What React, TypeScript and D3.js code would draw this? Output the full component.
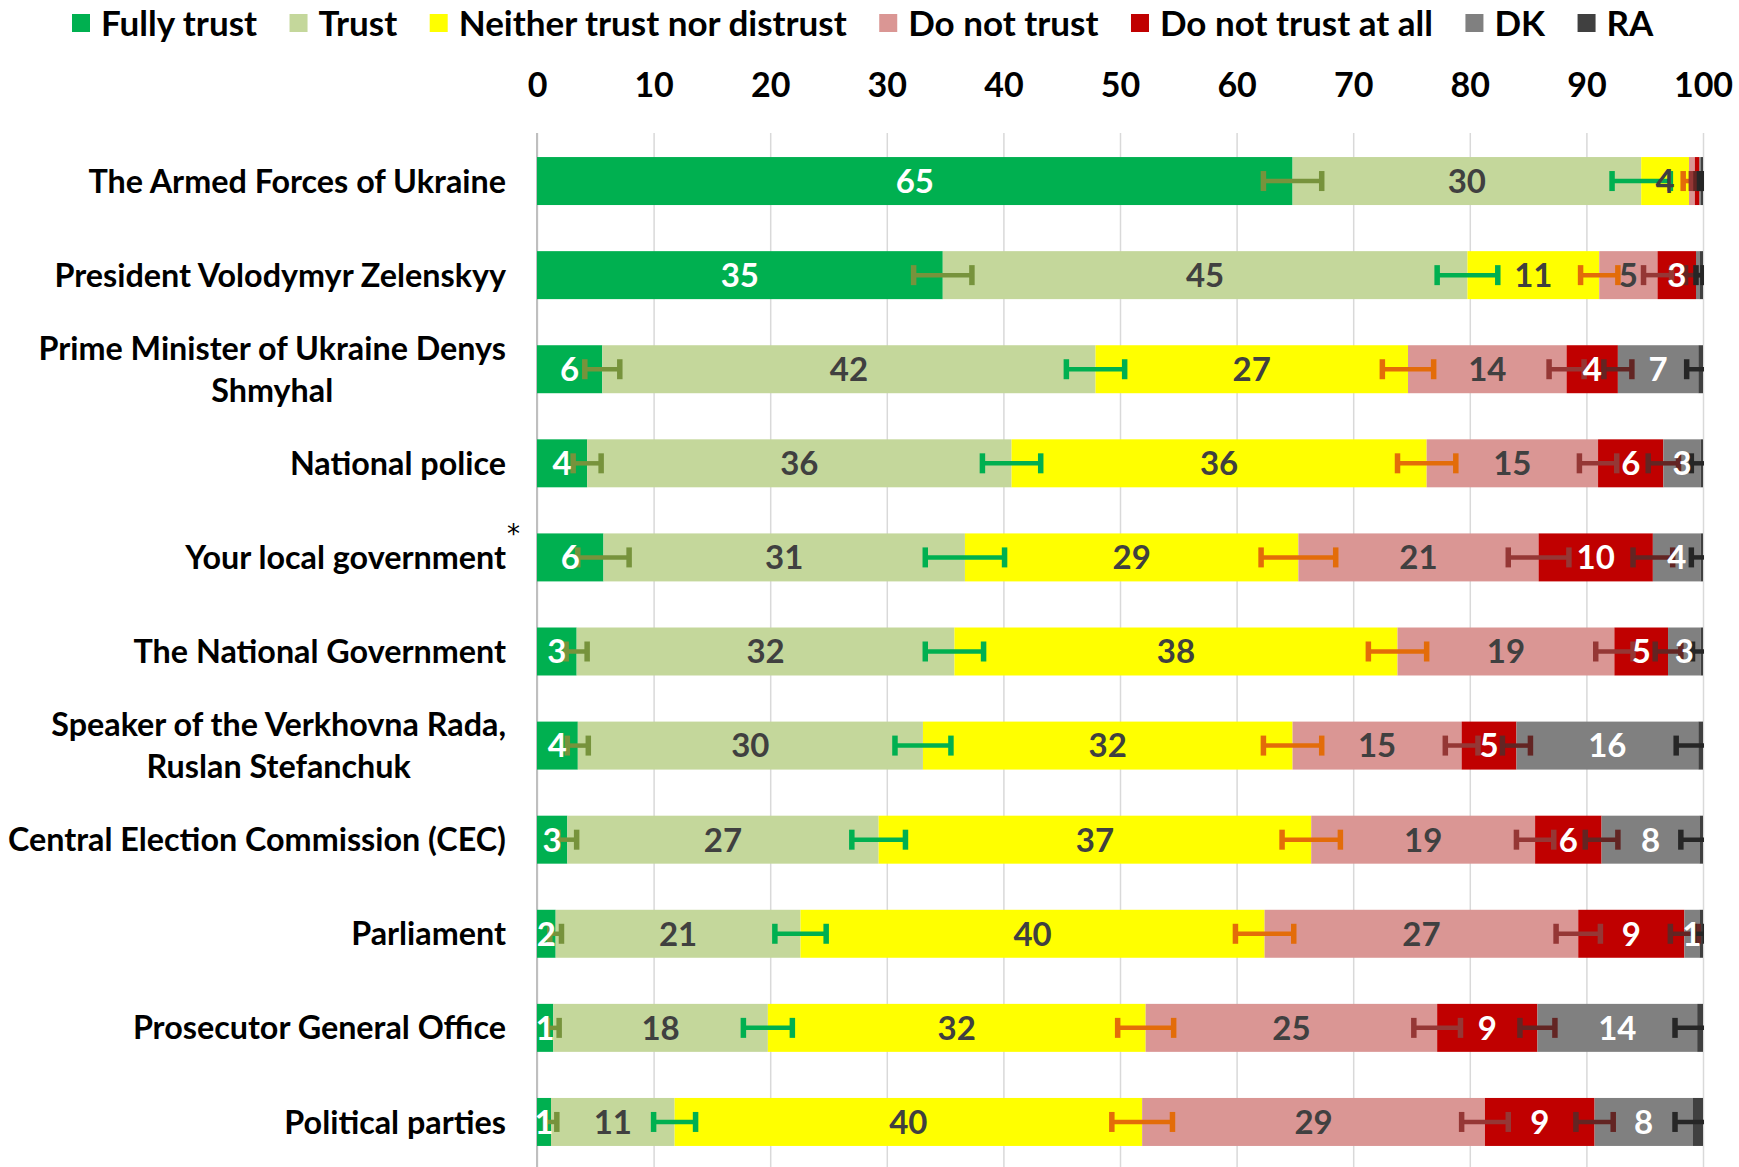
import React, { useEffect, useRef } from "react";
import * as d3 from "d3";

const categories = [
  "The Armed Forces of Ukraine",
  "President Volodymyr Zelenskyy",
  "Prime Minister of Ukraine Denys\nShmyhal",
  "National police",
  "Your local government",
  "The National Government",
  "Speaker of the Verkhovna Rada,\nRuslan Stefanchuk",
  "Central Election Commission (CEC)",
  "Parliament",
  "Prosecutor General Office",
  "Political parties",
];

const seriesNames = ["Fully trust", "Trust", "Neither trust nor distrust", "Do not trust", "Do not trust at all", "DK", "RA"];

const fullyTrust = [64.8, 34.8, 5.6, 4.3, 5.7, 3.4, 3.5, 2.6, 1.6, 1.4, 1.2];
const trust = [29.9, 45.0, 42.3, 36.4, 31.0, 32.4, 29.6, 26.7, 21.0, 18.4, 10.6];
const neither = [4.1, 11.3, 26.8, 35.6, 28.6, 38.0, 31.7, 37.1, 39.8, 32.4, 40.1];
const doNotTrust = [0.5, 5.0, 13.6, 14.7, 20.6, 18.6, 14.5, 19.2, 26.9, 25.0, 29.4];
const doNotTrustAtAll = [0.4, 3.3, 4.4, 5.6, 9.8, 4.6, 4.7, 5.7, 9.1, 8.6, 9.4];
const dk = [0.1, 0.3, 6.9, 3.2, 4.1, 2.8, 15.6, 8.4, 1.3, 13.7, 8.4];
const ra = [0.2, 0.3, 0.4, 0.2, 0.2, 0.2, 0.4, 0.3, 0.3, 0.5, 0.9];

// error bar half-widths (percentage points)
const fullyTrustErr = [2.5, 2.5, 1.5, 1.2, 2.2, 0.9, 0.9, 0.8, 0.5, 0.5, 0.5];
const trustErr = [2.5, 2.6, 2.5, 2.5, 3.4, 2.5, 2.4, 2.3, 2.2, 2.1, 1.8];
const neitherErr = [0.5, 1.6, 2.2, 2.5, 3.2, 2.5, 2.5, 2.5, 2.5, 2.4, 2.6];
const doNotTrustErr = [0.3, 1.2, 1.5, 1.6, 2.6, 1.6, 1.4, 1.6, 1.9, 2.0, 2.0];
const doNotTrustAtAllErr = [0.3, 0.9, 1.2, 1.3, 1.7, 1.1, 1.2, 1.4, 1.2, 1.5, 1.6];
const dkErr = [0.1, 0.3, 1.0, 0.8, 0.8, 0.7, 1.9, 1.6, 0.5, 1.9, 1.5];

const xTicks = [0, 10, 20, 30, 40, 50, 60, 70, 80, 90, 100];

const colors = ["#00B050", "#C4D79B", "#FFFF00", "#DA9694", "#C00000", "#808080", "#404040"];
const errColors = ["#77933C", "#00B050", "#E36C09", "#953735", "#632523", "#262626"];
const labelColors = ["#ffffff", "#404040", "#404040", "#404040", "#ffffff", "#ffffff", "#ffffff"];

const W = 1739;
const H = 1167;
const FONT = "Lato, 'Open Sans', sans-serif";

export default function App() {
  const svgRef = useRef<SVGSVGElement>(null);

  useEffect(() => {
    const svg = d3.select(svgRef.current);
    svg.selectAll("*").remove();

    const margin = { top: 134, right: 36, bottom: -2, left: 537 };

    const x = d3.scaleLinear().domain([0, 100]).range([margin.left, W - margin.right]);
    const y = d3
      .scaleBand<string>()
      .domain(categories)
      .range([margin.top, H - margin.bottom])
      .paddingInner(0.49)
      .paddingOuter(0.245);

    const values = [fullyTrust, trust, neither, doNotTrust, doNotTrustAtAll, dk, ra];
    const errs = [fullyTrustErr, trustErr, neitherErr, doNotTrustErr, doNotTrustAtAllErr, dkErr];

    const table = categories.map((c, i) => {
      const row: any = { category: c };
      seriesNames.forEach((s, k) => (row[s] = values[k][i]));
      return row;
    });
    const stacked = d3.stack<any>().keys(seriesNames)(table);

    svg
      .append("defs")
      .append("clipPath")
      .attr("id", "plot-clip")
      .append("rect")
      .attr("x", x(0))
      .attr("y", 0)
      .attr("width", x(100) - x(0) + 1)
      .attr("height", H);

    // === gridlines ===
    const grid = svg
      .append("g")
      .attr("transform", `translate(0,${margin.top - 1})`)
      .call(d3.axisTop(x).tickValues(xTicks).tickSize(-(H - margin.top + 1)).tickFormat(() => ""));
    grid.select(".domain").remove();
    grid.selectAll("line").attr("stroke", "#d9d9d9").attr("stroke-width", 1.5);

    // left axis line
    svg
      .append("line")
      .attr("x1", x(0))
      .attr("x2", x(0))
      .attr("y1", margin.top - 1)
      .attr("y2", H)
      .attr("stroke", "#bfbfbf")
      .attr("stroke-width", 2);

    // === x axis on top ===
    const gx = svg
      .append("g")
      .attr("transform", `translate(0,97)`)
      .call(d3.axisTop(x).tickValues(xTicks).tickSize(0).tickPadding(0));
    gx.select(".domain").remove();
    gx.selectAll("text")
      .attr("font-family", FONT)
      .attr("font-weight", 700)
      .attr("font-size", 34)
      .attr("fill", "#000");

    // === bars ===
    stacked.forEach((layer, k) => {
      svg
        .append("g")
        .selectAll("rect")
        .data(layer)
        .join("rect")
        .attr("x", (d) => x(d[0]))
        .attr("y", (d) => y(d.data.category)!)
        .attr("width", (d) => Math.max(0, x(d[1]) - x(d[0])))
        .attr("height", y.bandwidth())
        .attr("fill", colors[k]);
    });

    // === error bars ===
    const cap = 20;
    const errLayer = svg.append("g").attr("clip-path", "url(#plot-clip)");
    stacked.slice(0, 6).forEach((layer, k) => {
      const g = errLayer.append("g").attr("stroke", errColors[k]).attr("stroke-width", 4.5);
      layer.forEach((d, i) => {
        const e = errs[k][i];
        const cy = y(d.data.category)! + y.bandwidth() / 2;
        const x1 = x(d[1] - e);
        const x2 = x(d[1] + e);
        g.append("line").attr("x1", x1).attr("x2", x2).attr("y1", cy).attr("y2", cy);
        g.append("line").attr("x1", x1).attr("x2", x1).attr("y1", cy - cap / 2).attr("y2", cy + cap / 2).attr("stroke-width", 5.5);
        g.append("line").attr("x1", x2).attr("x2", x2).attr("y1", cy - cap / 2).attr("y2", cy + cap / 2).attr("stroke-width", 5.5);
      });
    });

    // === value labels ===
    stacked.slice(0, 6).forEach((layer, k) => {
      svg
        .append("g")
        .selectAll("text")
        .data(layer.filter((d) => d[1] - d[0] >= 1))
        .join("text")
        .attr("x", (d) => (x(d[0]) + x(d[1])) / 2)
        .attr("y", (d) => y(d.data.category)! + y.bandwidth() / 2)
        .attr("dy", "0.36em")
        .attr("text-anchor", "middle")
        .attr("font-family", FONT)
        .attr("font-weight", 700)
        .attr("font-size", 33)
        .attr("fill", labelColors[k])
        .text((d) => Math.round(d[1] - d[0]));
    });

    // === category labels ===
    const labelRight = 506;
    categories.forEach((c) => {
      const lines = c.split("\n");
      const cy = y(c)! + y.bandwidth() / 2;
      const t = svg
        .append("text")
        .attr("font-family", FONT)
        .attr("font-weight", 700)
        .attr("font-size", 32.3)
        .attr("fill", "#000");
      if (lines.length === 1) {
        t.attr("x", labelRight).attr("y", cy).attr("dy", "0.36em").attr("text-anchor", "end").text(c);
      } else {
        const spans = lines.map((ln, j) =>
          t.append("tspan").attr("y", cy + (j - (lines.length - 1) / 2) * 42).attr("dy", "0.36em").text(ln)
        );
        const widths = spans.map((s) => (s.node() as SVGTSpanElement).getComputedTextLength());
        const wmax = Math.max(...widths);
        spans.forEach((s) => s.attr("x", labelRight - wmax / 2).attr("text-anchor", "middle"));
      }
      if (c === "Your local government") {
        svg
          .append("text")
          .attr("x", labelRight + 1)
          .attr("y", cy - 14)
          .attr("font-family", "'DejaVu Sans', sans-serif")
          .attr("font-size", 26)
          .attr("fill", "#000")
          .text("*");
      }
    });

    // === legend ===
    const legend = svg.append("g").attr("transform", "translate(72,23)");
    let lx = 0;
    seriesNames.forEach((s, k) => {
      legend
        .append("rect")
        .attr("x", lx)
        .attr("y", -9)
        .attr("width", 18)
        .attr("height", 18)
        .attr("fill", colors[k]);
      const t = legend
        .append("text")
        .attr("x", lx + 29)
        .attr("y", 0)
        .attr("dy", "0.36em")
        .attr("font-family", FONT)
        .attr("font-weight", 700)
        .attr("font-size", 35)
        .attr("fill", "#000")
        .text(s);
      lx += 29 + (t.node() as SVGTextElement).getComputedTextLength() + 32.5;
    });
  }, []);

  return (
    <svg
      ref={svgRef}
      width={W}
      height={H}
      style={{ position: "absolute", left: 0, top: 0, background: "#fff" }}
    />
  );
}
